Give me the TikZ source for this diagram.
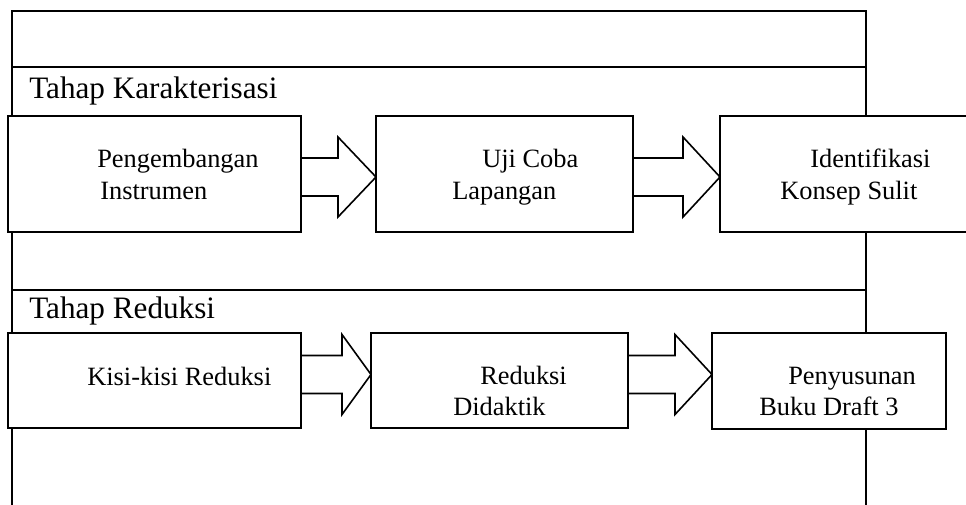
\documentclass[tikz,border=0pt]{standalone}
\usepackage{fontspec}
\setmainfont{Liberation Serif}
\usetikzlibrary{calc}

\tikzset{
  frame/.style={line width=0.9pt},
  box/.style={draw, fill=white, line width=1.2pt, anchor=north west, inner sep=0pt, outer sep=0pt},
  arrowbox/.style={draw, fill=white, line width=1.2pt, line join=miter},
  heading/.style={anchor=base west, inner sep=0pt, font=\fontsize{23.4}{28}\selectfont},
  boxtext/.style={anchor=base west, inner sep=0pt, font=\fontsize{19.8}{24}\selectfont}
}

% block arrow from #1 to #2, head length #3 (pt), vertical shift #4 (pt)
\newcommand{\blockarrow}[4]{
  \draw[arrowbox] let \p1=(#1.east), \p2=(#2.west), \n1={\y1+(#4)} in
    (\x1,\n1+14.25pt) -- (\x2-#3,\n1+14.25pt) -- (\x2-#3,\n1+30pt) -- (\x2,\n1)
    -- (\x2-#3,\n1-30pt) -- (\x2-#3,\n1-14.25pt) -- (\x1,\n1-14.25pt);
}

\begin{document}
\begin{tikzpicture}[x=0.75pt,y=-0.75pt]
	\path[use as bounding box, clip] (0,0) rectangle (966,504);

	% outer frame
	\draw[frame] (12,520) -- (12,11) -- (866,11) -- (866,520);
	\draw[frame] (12,67) -- (866,67);
	\draw[frame] (12,290) -- (866,290);

	\node[heading] (hk) at (29,98) {Tahap Karakterisasi};
	\node[heading] (hr) at (29,318) {Tahap Reduksi};

	% box places
	\path (8,116) coordinate (p1) (376,116) coordinate (p2) (720,116) coordinate (p3)
		(8,333) coordinate (p4) (371,333) coordinate (p5) (712,333) coordinate (p6);
	\path[box, minimum width=293*0.75pt, minimum height=116*0.75pt] (p1) node (instr) {};
	\path[box, minimum width=257*0.75pt, minimum height=116*0.75pt] (p2) node (uji) {};
	\path[box, minimum width=290*0.75pt, minimum height=116*0.75pt] (p3) node (konsep) {};
	\path[box, minimum width=293*0.75pt, minimum height=95*0.75pt] (p4) node (kisi) {};
	\path[box, minimum width=257*0.75pt, minimum height=95*0.75pt] (p5) node (didak) {};
	\path[box, minimum width=234*0.75pt, minimum height=96*0.75pt] (p6) node (draft) {};

	\blockarrow{instr}{uji}{28.5pt}{-2.25pt}
	\blockarrow{uji}{konsep}{27.75pt}{-2.25pt}
	\blockarrow{kisi}{didak}{21.75pt}{4.5pt}
	\blockarrow{didak}{draft}{27.75pt}{4.5pt}

	% boxes drawn over the arrow ends
	\foreach \b in {instr, uji, konsep, kisi, didak, draft}
		\draw[box] (\b.north west) rectangle (\b.south east);

	% texts in the boxes
	\foreach \px/\py/\nm/\txt in {97/167/pa/Pengembangan, 100/199/pb/Instrumen,
			482/167/ua/Uji Coba, 452/199/ub/Lapangan,
			810/167/ka/Identifikasi, 780/199/kb/Konsep Sulit,
			87/385/ra/Kisi-kisi Reduksi,
			480/384/da/Reduksi, 453/415/db/Didaktik,
			788/384/sa/Penyusunan, 759/415/sb/Buku Draft 3}
		\node[boxtext] (\nm) at (\px,\py) {\txt};
\end{tikzpicture}
\end{document}
